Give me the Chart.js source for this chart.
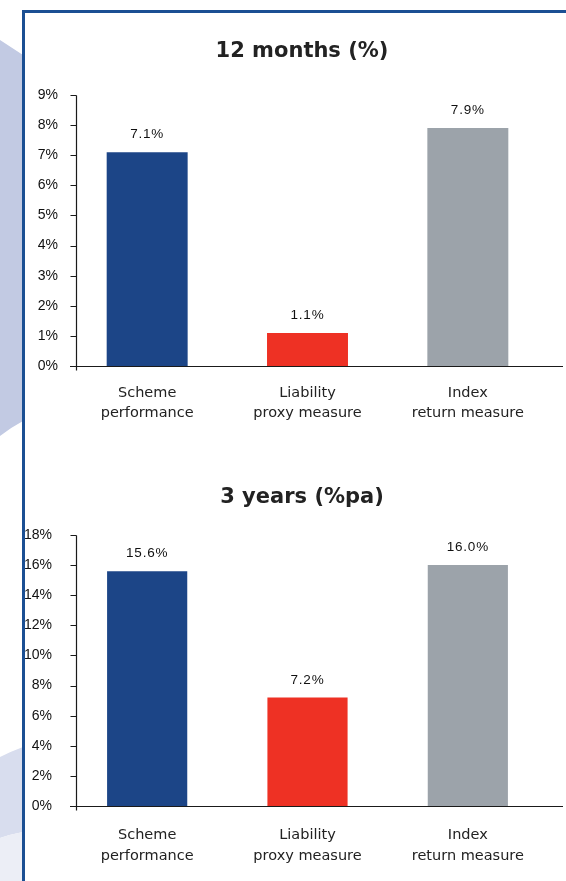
<!DOCTYPE html>
<html>
<head>
<meta charset="utf-8">
<script src="https://cdn.jsdelivr.net/npm/chart.js@4/dist/chart.umd.min.js"></script>
<style>
  html, body { margin: 0; padding: 0; background: #fff; }
  #page { position: relative; width: 566px; height: 881px; overflow: hidden; }
  #bg { position: absolute; left: 0; top: 0; }
  .box { position: absolute; left: 0; width: 566px; }
</style>
</head>
<body>
<div id="page">
  <canvas id="bg" width="566" height="881"></canvas>
  <div class="box" style="top:0;height:440px"><canvas id="c1"></canvas></div>
  <div class="box" style="top:440px;height:441px"><canvas id="c2"></canvas></div>
</div>
<script>
// Data
const categories = [['Scheme', 'performance'], ['Liability', 'proxy measure'], ['Index', 'return measure']];
const returns12m = [7.1, 1.1, 7.9];
const returns3y = [15.6, 7.2, 16.0];
const barColours = ['#1c4587', '#ee3124', '#9ca3aa'];
const yMax12m = 9, yStep12m = 1;
const yMax3y = 18, yStep3y = 2;

// Page decoration: side shapes and the blue frame
(function drawBackground() {
  const ctx = document.getElementById('bg').getContext('2d');
  ctx.fillStyle = '#c2cae3';
  ctx.beginPath();
  ctx.moveTo(0, 40); ctx.lineTo(23, 55); ctx.lineTo(23, 421);
  ctx.quadraticCurveTo(10, 428, 0, 436);
  ctx.closePath(); ctx.fill();

  ctx.fillStyle = '#d8ddee';
  ctx.beginPath();
  ctx.moveTo(0, 757); ctx.quadraticCurveTo(12, 751, 23, 747);
  ctx.lineTo(23, 832); ctx.quadraticCurveTo(12, 834, 0, 838);
  ctx.closePath(); ctx.fill();

  ctx.fillStyle = '#eceef6';
  ctx.beginPath();
  ctx.moveTo(0, 838); ctx.quadraticCurveTo(12, 834, 23, 832);
  ctx.lineTo(23, 881); ctx.lineTo(0, 881);
  ctx.closePath(); ctx.fill();

  ctx.fillStyle = '#1b4f93';
  ctx.fillRect(22, 10, 3, 871);
  ctx.fillRect(22, 10, 544, 3);
})();

// Chart heading, centred inside the framed panel
const panelTitle = {
  id: 'panelTitle',
  afterDraw(chart, args, opts) {
    const { ctx } = chart;
    ctx.save();
    ctx.font = 'bold 21px "DejaVu Sans", sans-serif';
    ctx.fillStyle = '#222';
    ctx.textAlign = 'center';
    ctx.textBaseline = 'middle';
    ctx.fillText(opts.text, opts.x, opts.y);
    ctx.restore();
  }
};

// Axis lines with outside tick marks, plus the baseline
const axisLines = {
  id: 'axisLines',
  afterDatasetsDraw(chart) {
    const { ctx } = chart;
    const y = chart.scales.y;
    const axisX = 76.5;
    const zero = Math.round(y.getPixelForValue(0)) + 0.5;
    ctx.save();
    ctx.strokeStyle = '#1a1a1a';
    ctx.lineWidth = 1.2;
    ctx.beginPath();
    ctx.moveTo(axisX, Math.round(y.getPixelForValue(y.max)) + 0.5);
    ctx.lineTo(axisX, zero + 4);
    y.ticks.forEach(t => {
      const py = Math.round(y.getPixelForValue(t.value)) + 0.5;
      ctx.moveTo(axisX - 6, py);
      ctx.lineTo(axisX, py);
    });
    ctx.moveTo(70, zero);
    ctx.lineTo(563, zero);
    ctx.stroke();
    ctx.restore();
  }
};

// Value labels above each bar
const valueLabels = {
  id: 'valueLabels',
  afterDatasetsDraw(chart) {
    const { ctx } = chart;
    const meta = chart.getDatasetMeta(0);
    const values = chart.data.datasets[0].data;
    ctx.save();
    ctx.font = '13.5px "Liberation Sans", Arial, sans-serif';
    if ('letterSpacing' in ctx) ctx.letterSpacing = '0.8px';
    ctx.fillStyle = '#111';
    ctx.textAlign = 'center';
    ctx.textBaseline = 'alphabetic';
    meta.data.forEach((bar, i) => {
      ctx.fillText(values[i].toFixed(1) + '%', bar.x, bar.y - 14);
    });
    ctx.restore();
  }
};

function makeChart(id, title, values, yMax, yStep, opts) {
  return new Chart(document.getElementById(id), {
    type: 'bar',
    data: {
      labels: categories,
      datasets: [{
        data: values,
        backgroundColor: barColours,
        borderWidth: 0,
        barPercentage: opts.barPct,
        categoryPercentage: 1
      }]
    },
    options: {
      responsive: true,
      maintainAspectRatio: false,
      animation: false,
      devicePixelRatio: 1,
      layout: { padding: { left: 0, right: 18, top: 95, bottom: 0 } },
      plugins: {
        legend: { display: false },
        tooltip: { enabled: false },
        title: { display: false },
        panelTitle: { text: title, x: 302, y: opts.titleY }
      },
      scales: {
        x: {
          grid: { display: false, drawTicks: false },
          border: { display: false },
          ticks: {
            color: '#222',
            font: { family: '"DejaVu Sans", sans-serif', size: 14.5, lineHeight: opts.xLine },
            padding: opts.xPad,
            maxRotation: 0,
            autoSkip: false
          },
          afterFit(scale) { scale.height = opts.xHeight; }
        },
        y: {
          min: 0,
          max: yMax,
          grid: { display: false, drawTicks: false },
          border: { display: false },
          ticks: {
            stepSize: yStep,
            color: '#111',
            font: { family: '"Liberation Sans", Arial, sans-serif', size: 14 },
            padding: opts.yPad,
            callback: v => v + '%'
          },
          afterFit(scale) { scale.width = 67; }
        }
      }
    },
    plugins: [axisLines, valueLabels, panelTitle]
  });
}

makeChart('c1', '12 months (%)', returns12m, yMax12m, yStep12m,
  { titleY: 52, xPad: 17, xLine: 1.38, xHeight: 74, yPad: 9, barPct: 0.505 });
makeChart('c2', '3 years (%pa)', returns3y, yMax3y, yStep3y,
  { titleY: 58, xPad: 19, xLine: 1.45, xHeight: 75, yPad: 15, barPct: 0.5 });
</script>
</body>
</html>
